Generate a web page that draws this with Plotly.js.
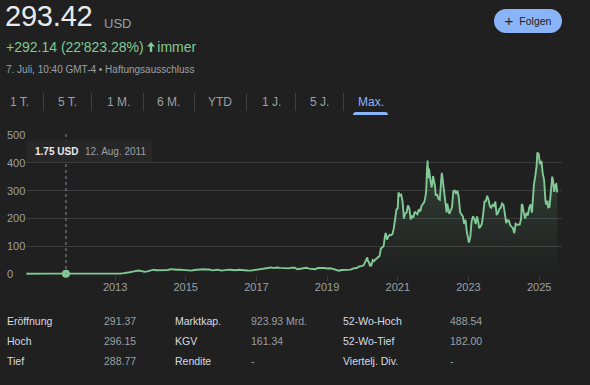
<!DOCTYPE html>
<html>
<head>
<meta charset="utf-8">
<script src="https://cdn.plot.ly/plotly-3.0.1.min.js"></script>
<style>
  html, body { margin:0; padding:0; background:#202020; width:590px; height:385px; overflow:hidden;
    font-family:"Liberation Sans", Arial, sans-serif; }
  #chart { position:absolute; left:0; top:0; width:590px; height:385px; }
  .t { position:absolute; white-space:nowrap; line-height:1; }
  .sep { position:absolute; width:1px; background:#3c4043; top:93px; height:18px; }
  svg.icon { display:block; }
</style>
</head>
<body>
<div id="chart"></div>
<div id="overlay"></div>
<script>
// ---------- DATA ----------
const dates = [
  '2010-06-29','2010-08-01','2010-10-01','2010-11-15','2011-01-01','2011-03-01','2011-05-01','2011-07-01','2011-09-01','2011-11-01',
  '2012-01-01','2012-03-01','2012-05-01','2012-07-01','2012-09-01','2012-11-01',
  '2013-01-01','2013-03-01','2013-04-01','2013-05-01','2013-06-01','2013-07-01','2013-08-01','2013-09-01','2013-10-01','2013-11-01','2013-12-01',
  '2014-01-01','2014-02-01','2014-03-01','2014-04-01','2014-05-01','2014-06-01','2014-07-01','2014-08-01','2014-09-01','2014-10-01','2014-11-01','2014-12-01',
  '2015-01-01','2015-02-01','2015-03-01','2015-04-01','2015-05-01','2015-06-01','2015-07-01','2015-08-01','2015-09-01','2015-10-01','2015-11-01','2015-12-01',
  '2016-01-01','2016-02-01','2016-03-01','2016-04-01','2016-05-01','2016-06-01','2016-07-01','2016-08-01','2016-09-01','2016-10-01','2016-11-01','2016-12-01',
  '2017-01-01','2017-02-01','2017-03-01','2017-04-01','2017-05-01','2017-06-01','2017-07-01','2017-08-01','2017-09-01','2017-10-01','2017-11-01','2017-12-01',
  '2018-01-01','2018-02-01','2018-03-01','2018-04-01','2018-05-01','2018-06-01','2018-07-01','2018-08-01','2018-09-01','2018-10-01','2018-11-01','2018-12-01',
  '2019-01-01','2019-02-01','2019-03-01','2019-04-01','2019-05-01','2019-06-01','2019-07-01','2019-08-01','2019-09-01','2019-10-01','2019-11-01','2019-12-01',
  '2020-01-03','2020-01-17','2020-01-31','2020-02-07','2020-02-21','2020-02-28','2020-03-06','2020-03-13','2020-03-20','2020-03-27','2020-04-03','2020-04-17',
  '2020-05-01','2020-05-15','2020-05-29','2020-06-12','2020-06-26','2020-07-10','2020-07-24','2020-08-07','2020-08-21','2020-08-28','2020-09-04','2020-09-11',
  '2020-09-25','2020-10-09','2020-10-23','2020-11-06','2020-11-20','2020-12-04','2020-12-18','2020-12-31',
  '2021-01-08','2021-01-22','2021-02-05','2021-02-19','2021-03-05','2021-03-19','2021-04-01','2021-04-16','2021-04-30','2021-05-14','2021-05-28','2021-06-11',
  '2021-06-25','2021-07-09','2021-07-23','2021-08-06','2021-08-20','2021-09-03','2021-09-17','2021-10-01','2021-10-15','2021-10-22','2021-10-29','2021-11-05',
  '2021-11-12','2021-11-19','2021-12-03','2021-12-17','2021-12-31',
  '2022-01-07','2022-01-21','2022-01-28','2022-02-11','2022-02-25','2022-03-11','2022-03-25','2022-04-01','2022-04-14','2022-04-29','2022-05-13','2022-05-20',
  '2022-05-27','2022-06-10','2022-06-17','2022-07-01','2022-07-15','2022-07-29','2022-08-12','2022-08-26','2022-09-09','2022-09-23','2022-10-07','2022-10-21',
  '2022-11-04','2022-11-18','2022-12-02','2022-12-16','2022-12-30',
  '2023-01-06','2023-01-20','2023-02-03','2023-02-17','2023-03-03','2023-03-17','2023-03-31','2023-04-14','2023-04-21','2023-05-05','2023-05-19','2023-06-02',
  '2023-06-16','2023-06-30','2023-07-14','2023-07-28','2023-08-11','2023-08-25','2023-09-08','2023-09-22','2023-10-06','2023-10-20','2023-11-03','2023-11-17',
  '2023-12-01','2023-12-15','2023-12-29',
  '2024-01-12','2024-01-26','2024-02-09','2024-02-23','2024-03-08','2024-03-22','2024-04-05','2024-04-19','2024-05-03','2024-05-17','2024-05-31','2024-06-14',
  '2024-06-28','2024-07-05','2024-07-12','2024-07-26','2024-08-09','2024-08-23','2024-09-06','2024-09-20','2024-10-04','2024-10-18','2024-10-25','2024-11-08',
  '2024-11-22','2024-12-06','2024-12-13','2024-12-27',
  '2025-01-10','2025-01-24','2025-02-07','2025-02-21','2025-03-07','2025-03-14','2025-03-28','2025-04-04','2025-04-18','2025-05-02','2025-05-16','2025-05-23',
  '2025-06-06','2025-06-20','2025-06-27','2025-07-07'
];
const prices = [
  1.59,1.33,1.38,2.33,1.61,1.85,2.00,1.89,1.63,2.19,
  1.94,2.48,1.99,1.86,1.95,2.25,
  2.5,2.5,3.6,6.5,6.8,8.9,11.2,12.9,10.7,8.5,10.0,
  12.1,16.3,13.9,13.9,13.8,16.0,15.0,18.0,16.2,16.1,16.3,14.8,
  13.6,13.6,12.6,15.1,16.7,17.9,17.8,16.6,16.6,13.8,15.4,16.0,
  12.8,12.8,15.3,16.0,14.9,14.2,15.7,14.2,13.6,13.1,12.6,14.2,
  16.9,16.7,18.6,20.8,22.7,24.1,21.6,23.7,22.7,22.1,20.6,20.8,
  23.6,22.9,17.7,19.6,18.9,22.9,19.9,20.1,17.7,22.5,23.4,22.2,
  20.5,21.3,18.7,15.9,12.3,14.9,16.1,15.0,16.1,20.9,22.0,27.9,
  29.5,34.2,43.4,49.0,60.0,44.5,46.9,36.4,28.5,34.3,32.0,50.3,
  46.8,53.5,55.7,62.4,64.0,92.0,94.5,99.8,136.7,147.6,139.4,124.2,
  135.5,141.3,140.0,143.3,163.2,199.3,231.7,235.2,
  293.3,282.2,285.7,260.9,199.3,218.3,220.6,246.3,236.5,196.6,208.4,203.3,
  224.5,219.6,215.3,233.3,224.4,244.7,253.0,258.4,281.0,303.2,371.3,407.4,
  344.5,379.0,338.3,310.9,352.3,
  342.3,314.6,282.1,287.6,269.9,266.7,336.9,363.9,328.0,290.3,256.5,221.3,
  253.2,232.2,216.8,227.3,240.1,297.1,300.0,288.1,299.7,275.3,223.1,214.4,
  207.5,180.2,194.9,150.2,123.2,
  113.1,133.4,190.0,208.3,197.8,180.1,207.5,185.0,165.1,170.1,180.1,214.0,
  260.5,261.8,281.4,266.4,242.7,238.6,248.5,244.9,260.5,212.0,220.0,234.3,
  238.8,253.5,248.5,
  218.9,183.3,193.6,192.0,175.3,170.8,164.9,147.1,181.2,177.5,178.1,178.0,
  197.9,251.5,248.2,219.8,200.0,220.3,210.7,238.3,250.1,220.7,269.2,321.2,
  352.6,389.2,436.2,431.7,
  394.7,406.6,361.6,337.8,262.7,250.0,263.6,239.4,241.4,287.2,350.0,339.3,
  295.1,322.2,323.6,293.4
];
const hoverDate = ['2011-08-12'];
const hoverValue = [1.75];
const hoverLabel = ['1.75 USD'];
const hoverDateLabel = ['12. Aug. 2011'];
const yTicks = [0, 100, 200, 300, 400, 500];
const xTickVals = ['2013-01-01','2015-01-01','2017-01-01','2019-01-01','2021-01-01','2023-01-01','2025-01-01'];
const xTickText = ['2013','2015','2017','2019','2021','2023','2025'];

const price = '293.42';
const currency = 'USD';
const change = "+292.14 (22'823.28%)";
const changeSuffix = 'immer';
const stamp = '7. Juli, 10:40 GMT-4 • Haftungsausschluss';
const ranges = ['1 T.','5 T.','1 M.','6 M.','YTD','1 J.','5 J.','Max.'];
const statLabels1 = ['Eröffnung','Hoch','Tief'];
const statValues1 = ['291.37','296.15','288.77'];
const statLabels2 = ['Marktkap.','KGV','Rendite'];
const statValues2 = ['923.93 Mrd.','161.34','-'];
const statLabels3 = ['52-Wo-Hoch','52-Wo-Tief','Viertelj. Div.'];
const statValues3 = ['488.54','182.00','-'];

// ---------- STYLE ----------
const BG = '#202020', GRID = '#3a3b3d', TXT = '#9aa0a6', GREEN = '#81c995', BLUE = '#8ab4f8';
const L = 26, R = 562, T = 134, B = 275; // plot area pixels
const W = 590, H = 385;
const px2paperX = p => (p - L) / (R - L);
const px2paperY = p => (B - p) / (B - T);

// ---------- HTML overlay (header, range tabs, stats) ----------
const ov = document.getElementById('overlay');
function txt(s, left, top, size, color, extra) {
  const d = document.createElement('div');
  d.className = 't';
  d.textContent = s;
  d.style.left = left + 'px'; d.style.top = top + 'px';
  d.style.fontSize = size + 'px'; d.style.color = color;
  if (extra) Object.assign(d.style, extra);
  ov.appendChild(d);
  return d;
}
txt(price, 5, 2.3, 29, '#e8eaed', {letterSpacing:'-0.2px'});
txt(currency, 104, 16.7, 13, TXT);
txt(change, 6, 39.8, 14, GREEN);
const arrow = document.createElement('div');
Object.assign(arrow.style, {position:'absolute', left:'146.5px', top:'41.5px', width:'8px', height:'10px'});
arrow.innerHTML = '<svg class="icon" width="8" height="10" viewBox="0 0 8 10"><path d="M4 0 L8 4.6 L5.2 4.6 L5.2 10 L2.8 10 L2.8 4.6 L0 4.6 Z" fill="' + GREEN + '"/></svg>';
ov.appendChild(arrow);
txt(changeSuffix, 157.3, 39.8, 14, GREEN);
txt(stamp, 6, 65.4, 10, TXT);

const tabX = [10, 58, 107, 157, 208, 262, 310, 358];
const sepX = [43, 91, 143, 194, 246, 295, 343];
ranges.forEach((r, i) => txt(r, tabX[i], 95.8, 12, i === ranges.length - 1 ? BLUE : TXT));
sepX.forEach(x => { const s = document.createElement('div'); s.className='sep'; s.style.left = x + 'px'; ov.appendChild(s); });
const ul = document.createElement('div');
Object.assign(ul.style, {position:'absolute', left:'353px', top:'112px', width:'35px', height:'3px', background:BLUE, borderRadius:'3px 3px 0 0'});
ov.appendChild(ul);

const btn = document.createElement('div');
Object.assign(btn.style, {position:'absolute', left:'494px', top:'9px', width:'68px', height:'24px', background:BLUE,
  borderRadius:'12px', display:'flex', alignItems:'center', justifyContent:'center', color:'#202124', fontSize:'10.5px', gap:'6px'});
btn.innerHTML = '<span style="font-size:15px;line-height:1;margin-top:-1px">+</span><span>Folgen</span>';
ov.appendChild(btn);

const rowTop = [315.9, 335.9, 356.4];
const cols = [[statLabels1, 7, '#dadce0'], [statValues1, 104, TXT], [statLabels2, 175, '#dadce0'], [statValues2, 251, TXT],
              [statLabels3, 343, '#dadce0'], [statValues3, 450, TXT]];
cols.forEach(([arr, x, c]) => arr.forEach((s, i) => txt(s, x, rowTop[i], 10.5, c)));

// ---------- PLOT ----------
const traces = [
  {
    x: dates, y: prices, type: 'scatter', mode: 'lines',
    line: {color: GREEN, width: 1.9},
    fill: 'tozeroy',
    fillgradient: {type: 'vertical', start: 0, stop: 440,
      colorscale: [[0, 'rgba(129,201,149,0)'], [1, 'rgba(129,201,149,0.20)']]},
    hoverinfo: 'skip'
  },
  {
    x: hoverDate, y: hoverValue, type: 'scatter', mode: 'markers',
    marker: {color: GREEN, size: 8}, cliponaxis: false, hoverinfo: 'skip'
  }
];

const annotations = yTicks.map(v => ({
  xref: 'paper', yref: 'y', x: px2paperX(5), y: v, xanchor: 'left', yanchor: 'middle',
  text: String(v), showarrow: false, font: {size: 11, color: TXT}
}));
annotations.push({
  xref: 'paper', yref: 'paper', x: px2paperX(33), y: px2paperY(151.5), xanchor: 'left', yanchor: 'middle',
  text: '<b>' + hoverLabel[0] + '</b>', showarrow: false, font: {size: 10, color: '#e8eaed'}
});
annotations.push({
  xref: 'paper', yref: 'paper', x: px2paperX(83), y: px2paperY(151.5), xanchor: 'left', yanchor: 'middle',
  text: hoverDateLabel[0], showarrow: false, font: {size: 10, color: TXT}
});

const shapes = [
  {type: 'line', xref: 'x', yref: 'paper', x0: hoverDate[0], x1: hoverDate[0], y0: 0, y1: 1,
   line: {color: '#8a8f95', width: 1, dash: 'dot'}, layer: 'above'},
  {type: 'rect', xref: 'paper', yref: 'paper', x0: px2paperX(26), x1: px2paperX(152), y0: px2paperY(162), y1: px2paperY(140.5),
   fillcolor: '#272727', line: {width: 0}, layer: 'above'}
];

const layout = {
  width: W, height: H,
  margin: {l: L, r: W - R, t: T, b: H - B, pad: 0},
  paper_bgcolor: 'rgba(0,0,0,0)', plot_bgcolor: 'rgba(0,0,0,0)',
  showlegend: false,
  font: {family: '"Liberation Sans", Arial, sans-serif', color: TXT},
  xaxis: {
    type: 'date', range: ['2010-06-25', '2025-08-25'],
    tickvals: xTickVals, ticktext: xTickText, tickfont: {size: 11, color: TXT},
    showgrid: false, zeroline: false, showline: false,
    ticks: 'outside', ticklen: 5, tickcolor: GRID, tickwidth: 1,
    ticklabelstandoff: -3
  },
  yaxis: {
    range: [-3, 503], tickvals: yTicks, showticklabels: false,
    showgrid: true, gridcolor: GRID, gridwidth: 1.5, zeroline: false, showline: false, ticks: ''
  },
  annotations: annotations,
  shapes: shapes
};

Plotly.newPlot('chart', traces, layout, {staticPlot: true, displayModeBar: false});
</script>
</body>
</html>
